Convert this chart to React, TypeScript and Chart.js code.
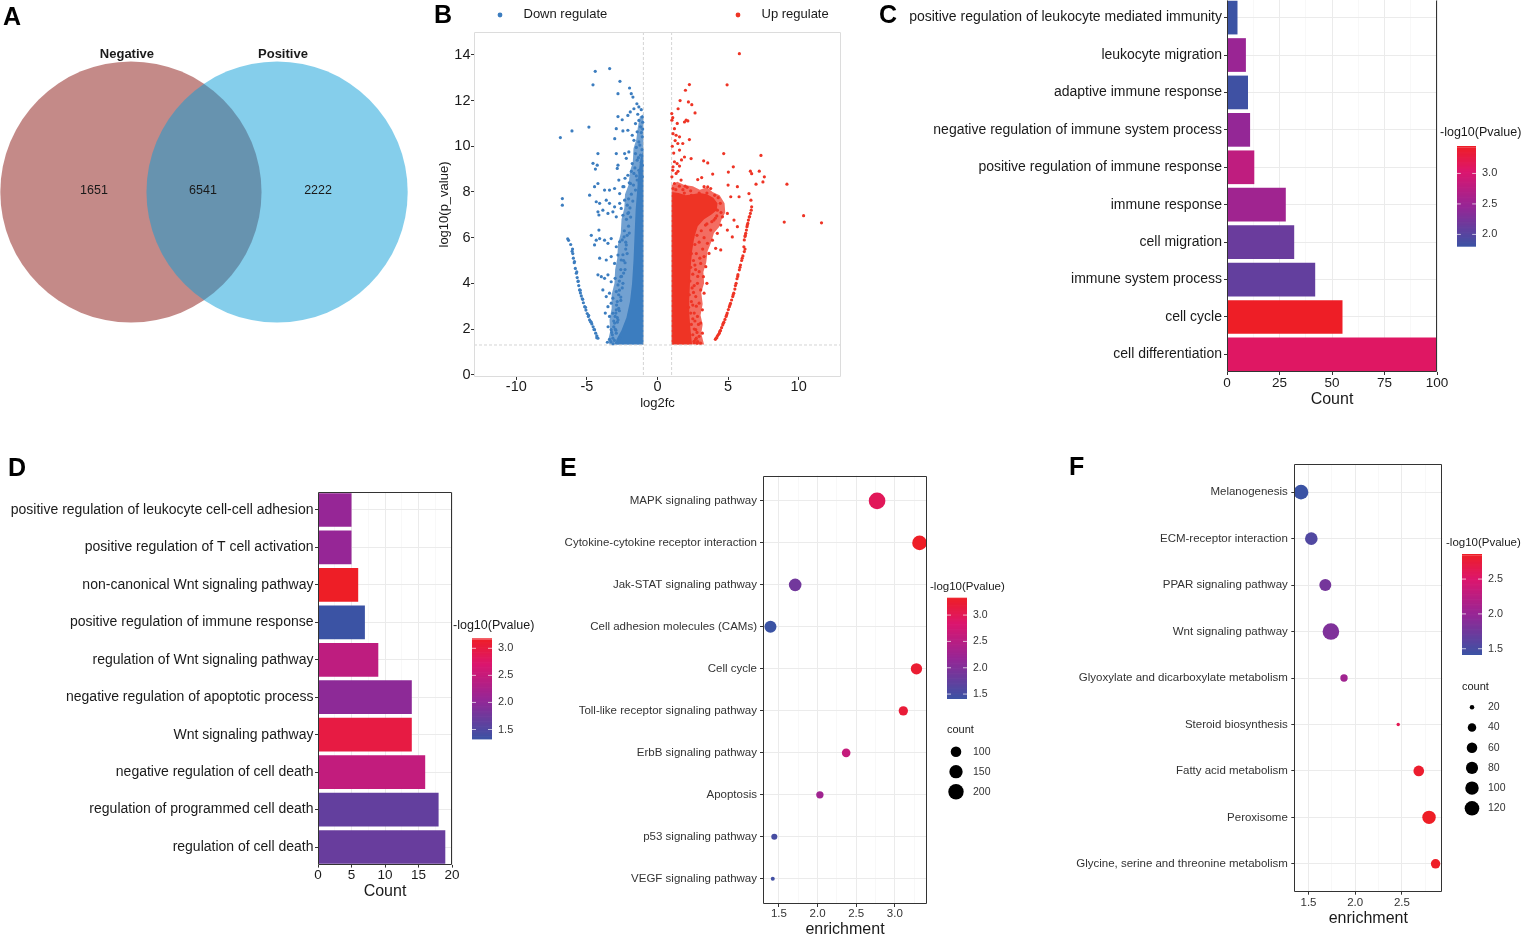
import React, { useEffect, useRef } from "react";
import { Chart, registerables } from "chart.js";

Chart.register(...registerables);

const FONT = '"Liberation Sans", Arial, Helvetica, sans-serif';
Chart.defaults.font.family = FONT;

type Pt = [number, number];

// ======================= DATA =======================
// Panel A – Venn diagram
const vennSetNames = ["Negative", "Positive"];
const vennUniqueCounts = [1651, 2222];
const vennSharedCount = 6541;

// Panel B – volcano plot
const volcanoGroups = ["Down regulate", "Up regulate"];
const log2fcCutoffs = [-1, 1];
const pValueCutoff = 1.301;
const volcanoXTicks = [-10, -5, 0, 5, 10];
const volcanoYTicks = [0, 2, 4, 6, 8, 10, 12, 14];

// outlines of the over-plotted regions: saturated core and speckled halo
const downCoreOutline: Pt[] = [
  [-1.0, 1.32], [-1.0, 9.8], [-1.2, 9.5], [-1.35, 8.8], [-1.45, 8.0], [-1.55, 7.2], [-1.62, 6.2], [-1.7, 5.0],
  [-1.8, 4.0], [-1.95, 3.2], [-2.2, 2.5], [-2.55, 1.95], [-2.9, 1.55], [-3.0, 1.32],
];
const downHaloOutline: Pt[] = [
  [-1.0, 1.32], [-1.0, 11.4], [-1.25, 11.3], [-1.4, 10.8], [-1.5, 10.3], [-1.7, 9.9], [-1.75, 9.3], [-1.95, 8.9],
  [-2.05, 8.3], [-2.3, 7.9], [-2.35, 7.3], [-2.55, 6.8], [-2.6, 6.2], [-2.8, 5.7], [-2.85, 5.1], [-3.0, 4.6],
  [-3.05, 4.0], [-3.25, 3.5], [-3.25, 2.9], [-3.4, 2.4], [-3.35, 1.9], [-3.5, 1.5], [-3.4, 1.32],
];
const upCoreOutline: Pt[] = [
  [1.0, 1.32], [1.0, 8.0], [1.5, 7.95], [2.0, 7.85], [2.5, 7.9], [3.0, 7.95], [3.5, 7.9], [3.95, 7.75],
  [4.25, 7.5], [4.2, 7.2], [3.8, 7.0], [3.3, 6.8], [2.85, 6.5], [2.6, 6.0], [2.45, 5.4], [2.35, 4.7],
  [2.3, 4.0], [2.25, 3.3], [2.25, 2.7], [2.32, 2.1], [2.4, 1.6], [2.45, 1.32],
];
const upHaloOutline: Pt[] = [
  [1.0, 1.32], [1.0, 8.3], [1.4, 8.45], [1.9, 8.3], [2.5, 8.25], [3.0, 8.1], [3.5, 8.2], [3.9, 8.0], [4.4, 7.85],
  [4.75, 7.5], [4.8, 7.1], [4.55, 6.8], [4.35, 6.45], [4.0, 6.2], [3.8, 5.8], [3.55, 5.4], [3.45, 4.9],
  [3.25, 4.5], [3.3, 4.0], [3.1, 3.6], [3.2, 3.1], [3.05, 2.6], [3.2, 2.2], [3.1, 1.8], [3.3, 1.32],
];
const downScatter: Pt[] = [
  [-6.88, 10.38], [-6.06, 10.67], [-4.86, 10.84], [-4.41, 13.28], [-3.39, 13.4], [-4.57, 12.69], [-2.66, 12.84],
  [-2.8, 12.3], [-1.98, 12.55], [-6.74, 7.71], [-6.74, 7.42],
  [-1.86, 12.3], [-1.74, 12.15], [-1.46, 11.86], [-1.32, 11.72], [-1.67, 11.64], [-1.93, 11.5], [-2.1, 11.35],
  [-2.5, 11.16], [-2.8, 11.3], [-1.32, 11.13], [-1.08, 11.28], [-1.56, 10.99], [-1.2, 10.85], [-1.44, 10.63],
  [-1.79, 10.48], [-1.08, 10.41], [-1.32, 10.19], [-1.67, 10.26], [-2.1, 10.7], [-2.45, 10.67], [-2.92, 10.77],
  [-3.03, 10.33], [-2.03, 9.75], [-1.56, 9.68], [-1.2, 9.61], [-1.44, 9.39], [-1.79, 9.24], [-1.08, 9.17],
  [-1.32, 8.95], [-1.67, 8.81], [-2.1, 8.73], [-1.08, 8.66], [-1.44, 8.52], [-1.91, 8.37], [-1.2, 8.23],
  [-1.56, 8.08], [-2.74, 8.52], [-2.38, 8.23], [-1.05, 11.05], [-1.15, 10.6], [-1.25, 10.05], [-1.1, 9.85],
  [-1.5, 9.95], [-1.35, 9.5], [-1.6, 9.05], [-1.15, 9.3], [-1.25, 8.85], [-1.5, 8.7], [-1.85, 8.9], [-1.3, 8.4],
  [-1.7, 8.3], [-1.05, 10.75], [-1.4, 11.4], [-1.15, 11.6],
  [-4.22, 9.68], [-4.57, 9.25], [-4.27, 9.17], [-4.4, 9.0], [-2.92, 9.68], [-2.8, 9.17], [-2.85, 9.03],
  [-2.33, 9.68], [-2.21, 9.47], [-4.22, 8.37], [-4.46, 8.23], [-4.81, 7.86], [-3.75, 8.08], [-3.4, 8.08],
  [-3.04, 8.15], [-2.68, 7.93], [-2.45, 8.23], [-4.34, 7.57], [-4.1, 7.5], [-3.63, 7.64], [-3.4, 7.5],
  [-3.04, 7.35], [-2.68, 7.5], [-2.57, 7.28], [-2.33, 7.64], [-2.14, 7.42], [-4.22, 7.13], [-3.87, 7.2],
  [-3.51, 7.06], [-3.16, 7.13], [-2.92, 6.91], [-2.45, 6.98], [-2.1, 7.06], [-4.15, 6.99], [-4.15, 6.33],
  [-4.69, 6.1], [-4.34, 5.89], [-4.46, 5.68], [-4.1, 5.96], [-3.75, 5.89], [-3.51, 5.75], [-3.28, 5.96],
  [-2.92, 5.6], [-2.68, 5.82], [-2.37, 6.03], [-2.21, 5.68], [-4.1, 5.1], [-3.63, 5.02], [-3.28, 5.17],
  [-3.04, 4.87], [-2.8, 5.24], [-2.57, 5.02], [-4.22, 4.37], [-3.98, 4.29], [-3.75, 4.22], [-3.51, 4.37],
  [-3.28, 4.07], [-3.0, 4.22], [-2.8, 3.93], [-2.6, 4.29], [-3.87, 3.71], [-3.63, 3.42], [-3.4, 3.57],
  [-3.16, 3.35], [-2.92, 3.64], [-3.28, 3.13], [-3.51, 2.98], [-3.4, 2.55], [-3.16, 2.69], [-2.92, 2.84],
  [-3.04, 2.26], [-2.8, 2.4], [-3.28, 1.97], [-2.92, 1.82], [-2.68, 1.6], [-3.16, 1.6],
  [-2.3, 8.6], [-2.0, 8.4], [-1.85, 7.9], [-2.05, 7.7], [-1.95, 7.3], [-2.2, 6.8], [-2.05, 6.5], [-2.35, 6.3],
  [-2.15, 6.1], [-2.5, 5.9], [-2.25, 5.5], [-2.45, 5.25], [-2.3, 4.9], [-2.6, 4.6], [-2.4, 4.45], [-2.7, 4.1],
  [-2.5, 3.8], [-2.75, 3.5], [-2.6, 3.25], [-2.9, 3.05], [-2.7, 2.8], [-3.0, 2.55], [-2.85, 2.3], [-3.1, 2.1],
  [-2.95, 1.95], [-3.2, 1.75], [-3.05, 1.5], [-3.3, 1.45], [-2.9, 1.4], [-1.75, 7.6], [-1.9, 6.9], [-2.0, 6.2],
  [-2.15, 5.3], [-2.3, 4.6], [-2.45, 4.0], [-2.6, 3.4], [-2.75, 2.9], [-2.85, 2.5], [-3.0, 2.0], [-3.15, 1.35],
  [-2.05, 7.1], [-2.25, 5.8], [-2.4, 5.0], [-2.55, 4.3], [-2.7, 3.7], [-2.85, 3.2], [-2.95, 2.7], [-3.1, 2.35],
  [-3.25, 1.85], [-3.4, 1.55], [-3.55, 1.42], [-3.5, 2.1], [-3.7, 2.7],
];
const downArc: Pt[] = [
  [-4.22, 1.6], [-4.3, 1.7], [-4.38, 1.82], [-4.46, 1.97], [-4.56, 2.1], [-4.65, 2.22], [-4.73, 2.32], [-4.81, 2.4],
  [-4.9, 2.55], [-4.98, 2.68], [-5.07, 2.83], [-5.16, 2.98], [-5.25, 3.15], [-5.33, 3.32], [-5.4, 3.45],
  [-5.46, 3.58], [-5.52, 3.71], [-5.58, 3.9], [-5.63, 4.08], [-5.69, 4.25], [-5.75, 4.44], [-5.82, 4.65],
  [-5.9, 4.9], [-5.96, 5.1], [-6.0, 5.3], [-6.02, 5.5], [-6.15, 5.7], [-6.3, 5.88], [-6.36, 5.95],
  [-4.3, 1.62], [-4.5, 1.98], [-4.7, 2.3], [-4.88, 2.6], [-5.1, 2.95], [-5.3, 3.3], [-5.48, 3.7], [-5.62, 4.1],
  [-5.72, 4.5], [-5.88, 4.95], [-6.05, 5.4],
];
const upScatter: Pt[] = [
  [5.8, 14.05], [4.93, 12.69], [2.26, 12.7], [1.98, 12.45], [1.6, 12.0], [2.19, 11.94], [2.43, 11.82], [2.66, 11.46],
  [1.46, 11.64], [1.01, 11.43], [1.08, 11.25], [1.02, 11.14], [1.91, 11.06], [2.03, 11.14], [2.15, 11.11],
  [1.2, 10.77], [1.32, 10.48], [1.56, 10.41], [2.26, 10.29], [1.44, 10.12], [1.79, 10.12], [1.56, 9.83],
  [1.91, 9.53], [1.2, 9.32], [1.39, 9.24], [1.56, 9.13], [2.38, 9.46], [1.08, 8.95], [1.32, 8.81], [1.02, 8.66],
  [1.67, 8.52], [1.2, 8.37], [1.96, 8.25],
  [4.69, 9.68], [7.33, 9.6], [3.27, 9.36], [3.56, 9.27], [5.37, 9.1], [5.02, 8.87], [3.91, 8.78], [3.13, 8.63],
  [2.85, 8.54], [6.58, 8.91], [6.67, 8.8], [7.21, 8.91], [7.57, 8.66], [7.47, 8.44], [6.98, 8.34], [9.17, 8.34],
  [5.0, 8.3], [3.56, 8.22], [10.35, 6.96], [8.98, 6.68], [11.62, 6.65],
  [1.05, 10.0], [1.15, 9.7], [1.1, 9.1], [1.45, 8.9], [1.3, 8.1], [1.55, 8.25], [1.8, 8.1], [2.1, 8.2],
  [2.35, 8.05], [1.1, 8.15], [1.7, 9.4], [1.25, 10.25], [1.1, 10.55], [1.4, 11.0],
  [6.48, 7.93], [3.3, 8.23], [3.77, 8.15], [5.19, 7.79], [5.78, 7.79], [5.66, 8.23], [4.24, 7.2], [4.6, 6.91],
  [4.95, 7.06], [5.42, 6.77], [5.66, 6.48], [5.3, 6.03], [4.95, 6.33], [4.48, 6.55], [4.0, 6.77], [4.24, 6.19],
  [3.77, 6.33], [3.89, 5.89], [3.54, 5.75], [4.12, 5.53], [4.48, 5.46], [3.65, 5.31], [3.3, 5.17], [3.06, 4.87],
  [3.42, 4.73], [2.95, 4.51], [3.25, 4.29], [2.83, 4.0], [3.5, 4.0], [3.06, 3.71], [2.71, 3.42], [3.3, 3.57],
  [2.95, 3.13], [3.18, 2.84], [2.83, 2.55], [3.06, 2.26], [2.71, 1.97], [2.95, 1.68], [2.59, 1.46], [3.18, 1.82],
  [2.5, 6.0], [2.65, 5.7], [2.4, 5.3], [2.55, 5.0], [2.35, 4.7], [2.5, 4.4], [2.3, 4.1], [2.45, 3.8], [2.25, 3.5],
  [2.4, 3.2], [2.2, 2.95], [2.35, 2.7], [2.5, 2.45], [2.4, 2.2], [2.6, 2.0], [2.5, 1.75], [2.7, 1.55], [2.8, 1.38],
  [2.6, 1.4], [2.85, 1.45], [3.05, 1.38], [2.75, 1.6], [2.8, 6.1], [3.1, 6.3], [3.4, 6.55], [2.95, 5.8],
  [3.2, 5.5], [2.75, 5.3], [2.65, 4.8], [2.85, 4.3], [2.6, 3.9], [2.75, 3.0], [2.6, 2.7], [2.9, 2.2], [2.8, 1.85],
  [3.3, 6.0], [3.0, 5.1], [2.7, 4.6], [2.55, 3.6], [2.5, 3.05], [2.65, 2.35],
  [4.45, 7.5], [4.5, 7.1], [4.2, 6.95], [3.85, 6.7], [3.5, 6.6], [2.95, 7.95], [3.5, 7.95], [4.05, 7.85],
  [2.4, 7.85], [1.9, 7.95], [4.3, 7.75], [4.1, 6.85],
];
const upArc: Pt[] = [
  [4.1, 1.55], [4.15, 1.6], [4.25, 1.7], [4.32, 1.76], [4.38, 1.82], [4.46, 1.94], [4.54, 2.06], [4.62, 2.18],
  [4.7, 2.3], [4.78, 2.42], [4.86, 2.55], [4.94, 2.7], [5.02, 2.85], [5.09, 2.98], [5.17, 3.12], [5.25, 3.27],
  [5.33, 3.42], [5.4, 3.57], [5.48, 3.75], [5.57, 4.0], [5.63, 4.2], [5.7, 4.38], [5.8, 4.59], [5.88, 4.8],
  [5.96, 5.0], [6.05, 5.2], [6.15, 5.39], [6.12, 5.6], [6.15, 5.9], [6.2, 6.05], [6.25, 6.19], [6.3, 6.33],
  [6.34, 6.48], [6.4, 6.62], [6.44, 6.77], [6.52, 6.92], [6.58, 7.06], [6.64, 7.2], [6.67, 7.35], [6.62, 7.64],
  [4.2, 1.62], [4.42, 1.9], [4.66, 2.25], [4.9, 2.62], [5.13, 3.05], [5.36, 3.5], [5.52, 3.9], [5.68, 4.3],
  [5.84, 4.7], [6.0, 5.1], [6.2, 5.5], [6.22, 6.1], [6.36, 6.55], [6.5, 6.9],
];

// Panel C – GO terms
const goCTerms = [
  "positive regulation of leukocyte mediated immunity", "leukocyte migration", "adaptive immune response",
  "negative regulation of immune system process", "positive regulation of immune response", "immune response",
  "cell migration", "immune system process", "cell cycle", "cell differentiation",
];
const goCCounts = [5, 9, 10, 11, 13, 28, 32, 42, 55, 100];
const goCLogP = [1.81, 2.5, 1.84, 2.45, 2.8, 2.55, 2.15, 2.1, 3.45, 3.1];
const goCCountTicks = [0, 25, 50, 75, 100];
const goCColorBreaks = [2.0, 2.5, 3.0];

// Panel D – GO terms
const goDTerms = [
  "positive regulation of leukocyte cell-cell adhesion", "positive regulation of T cell activation",
  "non-canonical Wnt signaling pathway", "positive regulation of immune response",
  "regulation of Wnt signaling pathway", "negative regulation of apoptotic process", "Wnt signaling pathway",
  "negative regulation of cell death", "regulation of programmed cell death", "regulation of cell death",
];
const goDCounts = [5, 5, 6, 7, 9, 14, 14, 16, 18, 19];
const goDLogP = [2.07, 2.07, 3.185, 1.33, 2.44, 2.0, 3.0, 2.48, 1.66, 1.7];
const goDCountTicks = [0, 5, 10, 15, 20];
const goDColorBreaks = [1.5, 2.0, 2.5, 3.0];

// Panel E – KEGG
const keggETerms = [
  "MAPK signaling pathway", "Cytokine-cytokine receptor interaction", "Jak-STAT signaling pathway",
  "Cell adhesion molecules (CAMs)", "Cell cycle", "Toll-like receptor signaling pathway", "ErbB signaling pathway",
  "Apoptosis", "p53 signaling pathway", "VEGF signaling pathway",
];
const keggEEnrichment = [2.77, 3.32, 1.71, 1.39, 3.28, 3.11, 2.37, 2.03, 1.44, 1.42];
const keggECounts = [233, 181, 136, 124, 112, 83, 75, 63, 55, 50];
const keggELogP = [2.99, 3.33, 1.88, 1.42, 3.25, 3.21, 2.62, 2.28, 1.52, 1.48];
const keggEEnrichTicks = [1.5, 2.0, 2.5, 3.0];
const keggEColorBreaks = [1.5, 2.0, 2.5, 3.0];
const keggESizeBreaks = [100, 150, 200];

// Panel F – KEGG
const keggFTerms = [
  "Melanogenesis", "ECM-receptor interaction", "PPAR signaling pathway", "Wnt signaling pathway",
  "Glyoxylate and dicarboxylate metabolism", "Steroid biosynthesis", "Fatty acid metabolism", "Peroxisome",
  "Glycine, serine and threonine metabolism",
];
const keggFEnrichment = [1.42, 1.53, 1.68, 1.74, 1.88, 2.46, 2.68, 2.79, 2.86];
const keggFCounts = [120, 87, 79, 159, 32, 19, 61, 100, 48];
const keggFLogP = [1.42, 1.56, 1.79, 1.85, 2.07, 2.63, 2.82, 2.86, 2.85];
const keggFEnrichTicks = [1.5, 2.0, 2.5];
const keggFColorBreaks = [1.5, 2.0, 2.5];
const keggFSizeBreaks = [20, 40, 60, 80, 100, 120];

// ======================= STYLE HELPERS =======================
const DOWN_COLOR = "#3C7DBF";
const UP_COLOR = "#EE3425";
const DOWN_HALO = "rgba(60,125,191,0.72)";
const UP_HALO = "rgba(238,52,37,0.72)";
const TEXT_DARK = "#1a1a1a";
const TEXT_GREY = "#333333";

const RAMP_STOPS: number[][] = [
  [0, 59, 83, 164],
  [0.4, 150, 38, 150],
  [0.75, 220, 22, 110],
  [1, 238, 30, 38],
];
function rampColor(t: number): string {
  const tt = Math.max(0, Math.min(1, t));
  for (let i = 1; i < RAMP_STOPS.length; i++) {
    const a = RAMP_STOPS[i - 1];
    const b = RAMP_STOPS[i];
    if (tt <= b[0]) {
      const u = (tt - a[0]) / (b[0] - a[0]);
      const c = [1, 2, 3].map((k) => Math.round(a[k] + (b[k] - a[k]) * u));
      return `rgb(${c[0]},${c[1]},${c[2]})`;
    }
  }
  return "rgb(238,30,38)";
}
const range = (arr: number[]) => [Math.min(...arr), Math.max(...arr)];
function colorsFor(vals: number[]) {
  const [lo, hi] = range(vals);
  return vals.map((v) => rampColor((v - lo) / (hi - lo)));
}
function sizeScale(counts: number[], rMin: number, rMax: number) {
  const [lo, hi] = range(counts);
  return (c: number) => rMin + (rMax - rMin) * Math.sqrt(Math.max(0, (c - lo) / (hi - lo)));
}
function expandRange(vals: number[]) {
  const [lo, hi] = range(vals);
  const d = (hi - lo) * 0.05;
  return [lo - d, hi + d];
}
function withMinors(majors: number[], min: number, max: number) {
  const step = majors[1] - majors[0];
  const out: number[] = [];
  const first = majors[0] - step / 2;
  for (let v = first; v <= max + 1e-9; v += step / 2) {
    if (v >= min - 1e-9) out.push(Math.round(v * 1000) / 1000);
  }
  return out;
}
const isIn = (arr: number[]) => (v: number) => arr.some((a) => Math.abs(a - v) < 1e-6);

interface AxisOpts {
  min: number;
  max: number;
  reverse?: boolean;
  values: number[];
  label: (v: number) => string;
  isMajor: (v: number) => boolean;
  size: number;
  fontSize: number;
  color: string;
  pad: number;
  grid: boolean;
  title?: string;
  titleSize?: number;
  titlePad?: number;
}
function axis(o: AxisOpts): any {
  return {
    type: "linear",
    min: o.min,
    max: o.max,
    reverse: !!o.reverse,
    bounds: "data",
    offset: false,
    afterBuildTicks: (s: any) => {
      s.ticks = o.values.map((v) => ({ value: v }));
    },
    afterFit: (s: any) => {
      if (s.isHorizontal()) s.height = o.size;
      else s.width = o.size;
      s.paddingTop = 0;
      s.paddingBottom = 0;
      s.paddingLeft = 0;
      s.paddingRight = 0;
    },
    border: { display: false },
    grid: {
      display: true,
      offset: false,
      drawOnChartArea: o.grid,
      drawTicks: true,
      tickLength: 3,
      color: (c: any) => (c.tick && o.isMajor(c.tick.value) ? "#EBEBEB" : "#F3F3F3"),
      lineWidth: (c: any) => (c.tick && o.isMajor(c.tick.value) ? 1 : 0.6),
      tickColor: (c: any) => (c.tick && o.isMajor(c.tick.value) ? "#333333" : "rgba(0,0,0,0)"),
      tickWidth: 1,
    },
    ticks: {
      autoSkip: false,
      maxRotation: 0,
      minRotation: 0,
      padding: o.pad,
      color: o.color,
      font: { family: FONT, size: o.fontSize, lineHeight: 1 },
      callback: (v: any) => o.label(Number(v)),
    },
    title: o.title
      ? {
          display: true,
          text: o.title,
          color: TEXT_DARK,
          font: { family: FONT, size: o.titleSize, lineHeight: 1.2 },
          padding: { top: o.titlePad, bottom: o.titlePad },
        }
      : { display: false },
  };
}

function baseOptions(padding: any): any {
  return {
    responsive: false,
    maintainAspectRatio: false,
    animation: false,
    events: [],
    layout: { padding },
    plugins: { legend: { display: false }, tooltip: { enabled: false }, title: { display: false } },
  };
}

function framePlugin(color: string, sides = "ltrb") {
  return {
    id: "frame",
    afterDatasetsDraw(chart: any) {
      const { ctx, chartArea: a } = chart;
      const L = Math.round(a.left) + 0.5;
      const R = Math.round(a.right) - 0.5;
      const T = Math.round(a.top) + 0.5;
      const B = Math.round(a.bottom) - 0.5;
      ctx.save();
      ctx.strokeStyle = color;
      ctx.lineWidth = 1;
      ctx.beginPath();
      if (sides.includes("l")) { ctx.moveTo(L, T); ctx.lineTo(L, B); }
      if (sides.includes("r")) { ctx.moveTo(R, T); ctx.lineTo(R, B); }
      if (sides.includes("t")) { ctx.moveTo(L, T); ctx.lineTo(R, T); }
      if (sides.includes("b")) { ctx.moveTo(L, B); ctx.lineTo(R, B); }
      ctx.stroke();
      ctx.restore();
    },
  };
}

interface BarLegend {
  title: string; titleX: number; titleY: number; titleSize: number;
  x: number; y: number; w: number; h: number; vals: number[]; breaks: number[];
  labelX: number; labelSize: number;
}
function colorbarPlugin(o: BarLegend) {
  return {
    id: "colorbar",
    afterDraw(chart: any) {
      const ctx = chart.ctx;
      const [lo, hi] = range(o.vals);
      ctx.save();
      ctx.font = `${o.titleSize}px ${FONT}`;
      ctx.fillStyle = TEXT_DARK;
      ctx.textBaseline = "middle";
      ctx.textAlign = "left";
      ctx.fillText(o.title, o.titleX, o.titleY);
      const n = 80;
      for (let i = 0; i < n; i++) {
        ctx.fillStyle = rampColor((i + 0.5) / n);
        const yTop = o.y + o.h - ((i + 1) * o.h) / n;
        ctx.fillRect(o.x, yTop, o.w, o.h / n + (i < n - 1 ? 0.7 : 0));
      }
      ctx.font = `${o.labelSize}px ${FONT}`;
      for (const b of o.breaks) {
        const yy = o.y + o.h - ((b - lo) / (hi - lo)) * o.h;
        ctx.strokeStyle = "rgba(255,255,255,0.85)";
        ctx.lineWidth = 0.8;
        ctx.beginPath();
        ctx.moveTo(o.x, yy); ctx.lineTo(o.x + o.w / 5, yy);
        ctx.moveTo(o.x + (o.w * 4) / 5, yy); ctx.lineTo(o.x + o.w, yy);
        ctx.stroke();
        ctx.fillStyle = TEXT_GREY;
        ctx.fillText(b.toFixed(1), o.labelX, yy);
      }
      ctx.restore();
    },
  };
}

interface SizeLegend {
  title: string; titleX: number; titleY: number; titleSize: number;
  dotX: number; y0: number; dy: number; breaks: number[]; radius: (c: number) => number;
  labelX: number; labelSize: number;
}
function sizeLegendPlugin(o: SizeLegend) {
  return {
    id: "sizeLegend",
    afterDraw(chart: any) {
      const ctx = chart.ctx;
      ctx.save();
      ctx.textBaseline = "middle";
      ctx.textAlign = "left";
      ctx.fillStyle = TEXT_DARK;
      ctx.font = `${o.titleSize}px ${FONT}`;
      ctx.fillText(o.title, o.titleX, o.titleY);
      ctx.font = `${o.labelSize}px ${FONT}`;
      o.breaks.forEach((b, i) => {
        const yy = o.y0 + i * o.dy;
        ctx.fillStyle = "#000";
        ctx.beginPath();
        ctx.arc(o.dotX, yy, o.radius(b), 0, Math.PI * 2);
        ctx.fill();
        ctx.fillStyle = TEXT_GREY;
        ctx.fillText(String(b), o.labelX, yy);
      });
      ctx.restore();
    },
  };
}

// ======================= PANELS =======================
const vennLayout = { centers: [-0.348, 0.348], radius: 0.622, nameX: [-0.367, 0.376], countX: [-0.524, -0.005, 0.543] };
const vennFill = ["rgba(137,21,17,0.5)", "rgba(11,157,215,0.5)"];

function buildVenn(): any {
  const venn = {
    id: "venn",
    beforeDatasetsDraw(chart: any) {
      const { ctx, scales } = chart;
      const x = scales.x;
      const y = scales.y;
      const r = x.getPixelForValue(vennLayout.radius) - x.getPixelForValue(0);
      const cy = y.getPixelForValue(0);
      ctx.save();
      vennSetNames.forEach((_, i) => {
        ctx.fillStyle = vennFill[i];
        ctx.beginPath();
        ctx.arc(x.getPixelForValue(vennLayout.centers[i]), cy, r, 0, Math.PI * 2);
        ctx.fill();
      });
      ctx.fillStyle = TEXT_DARK;
      ctx.textAlign = "center";
      ctx.font = `bold 13px ${FONT}`;
      ctx.textBaseline = "alphabetic";
      vennSetNames.forEach((n, i) => ctx.fillText(n, x.getPixelForValue(vennLayout.nameX[i]), cy - r - 3.5));
      ctx.font = `12.5px ${FONT}`;
      ctx.textBaseline = "middle";
      const counts = [vennUniqueCounts[0], vennSharedCount, vennUniqueCounts[1]];
      counts.forEach((c, i) => ctx.fillText(String(c), x.getPixelForValue(vennLayout.countX[i]), cy - 1));
      ctx.restore();
    },
  };
  return {
    type: "scatter",
    data: {
      datasets: vennSetNames.map((name, i) => ({
        label: name,
        data: [{ x: vennLayout.centers[i], y: 0 }],
        pointRadius: 0,
      })),
    },
    options: {
      ...baseOptions(0),
      scales: {
        x: { type: "linear", min: -1, max: 1, display: false },
        y: { type: "linear", min: -1, max: 1, display: false },
      },
    },
    plugins: [venn],
  };
}

function buildVolcano(): any {
  const layers = {
    id: "volcanoLayers",
    beforeDatasetsDraw(chart: any) {
      const { ctx, chartArea: a, scales } = chart;
      const x = scales.x;
      const y = scales.y;
      ctx.save();
      const poly = (pts: Pt[], color: string) => {
        ctx.beginPath();
        pts.forEach(([px, py], i) => {
          const X = x.getPixelForValue(px);
          const Y = y.getPixelForValue(py);
          if (i) ctx.lineTo(X, Y);
          else ctx.moveTo(X, Y);
        });
        ctx.closePath();
        ctx.fillStyle = color;
        ctx.fill();
      };
      poly(downHaloOutline, DOWN_HALO);
      poly(upHaloOutline, UP_HALO);
      poly(downCoreOutline, DOWN_COLOR);
      poly(upCoreOutline, UP_COLOR);
      ctx.setLineDash([3, 2]);
      ctx.strokeStyle = "#C9C9C9";
      ctx.lineWidth = 0.8;
      log2fcCutoffs.forEach((v) => {
        const X = x.getPixelForValue(v);
        ctx.beginPath();
        ctx.moveTo(X, a.top);
        ctx.lineTo(X, a.bottom);
        ctx.stroke();
      });
      const Y = y.getPixelForValue(pValueCutoff);
      ctx.beginPath();
      ctx.moveTo(a.left, Y);
      ctx.lineTo(a.right, Y);
      ctx.stroke();
      ctx.restore();
    },
  };
  const legend = {
    id: "volcanoLegend",
    afterDraw(chart: any) {
      const ctx = chart.ctx;
      const items = [
        { x: 70, color: DOWN_COLOR, text: volcanoGroups[0] },
        { x: 308, color: UP_COLOR, text: volcanoGroups[1] },
      ];
      ctx.save();
      ctx.font = `13px ${FONT}`;
      ctx.textBaseline = "middle";
      ctx.textAlign = "left";
      items.forEach((it) => {
        ctx.fillStyle = it.color;
        ctx.beginPath();
        ctx.arc(it.x, 15, 2.4, 0, Math.PI * 2);
        ctx.fill();
        ctx.fillStyle = TEXT_DARK;
        ctx.fillText(it.text, it.x + 23.5, 14);
      });
      ctx.restore();
    },
  };
  const toXY = (p: Pt) => ({ x: p[0], y: p[1] });
  return {
    type: "scatter",
    data: {
      datasets: [
        { label: volcanoGroups[0], data: [...downScatter, ...downArc].map(toXY), pointRadius: 1.6, pointBackgroundColor: DOWN_COLOR, pointBorderWidth: 0 },
        { label: volcanoGroups[1], data: [...upScatter, ...upArc].map(toXY), pointRadius: 1.6, pointBackgroundColor: UP_COLOR, pointBorderWidth: 0 },
      ],
    },
    options: {
      ...baseOptions({ left: 0, top: 32, right: 9, bottom: 0 }),
      scales: {
        x: axis({ min: -13, max: 13, values: volcanoXTicks, label: (v) => String(v), isMajor: () => true, size: 43, fontSize: 14.5, color: TEXT_DARK, pad: 0, grid: false, title: "log2fc", titleSize: 13, titlePad: 9.2 }),
        y: axis({ min: -0.1, max: 15, values: volcanoYTicks, label: (v) => String(v), isMajor: () => true, size: 44, fontSize: 14.5, color: TEXT_DARK, pad: 0.5, grid: false, title: "log10(p_value)", titleSize: 13, titlePad: 6.2 }),
      },
    },
    plugins: [layers, framePlugin("#DCDCDC"), legend],
  };
}

function buildGoBars(p: {
  terms: string[]; counts: number[]; logp: number[]; ticks: number[]; breaks: number[];
  padding: any; ySize: number; xSize: number; titlePad: number; xPad: number; yPad: number; sides: string;
  legend: Omit<BarLegend, "vals" | "breaks" | "title">;
}): any {
  const xMax = p.ticks[p.ticks.length - 1];
  const values = withMinors(p.ticks, 0, xMax);
  return {
    type: "bar",
    data: {
      datasets: [{
        data: p.counts.map((c, i) => ({ x: c, y: i })),
        backgroundColor: colorsFor(p.logp),
        borderWidth: 0,
        barPercentage: 0.9,
        categoryPercentage: 1,
      }],
    },
    options: {
      ...baseOptions(p.padding),
      indexAxis: "y",
      scales: {
        x: axis({ min: 0, max: xMax, values, label: (v) => (isIn(p.ticks)(v) ? String(v) : ""), isMajor: isIn(p.ticks), size: p.xSize, fontSize: 13.5, color: TEXT_DARK, pad: p.xPad, grid: true, title: "Count", titleSize: 16, titlePad: p.titlePad }),
        y: axis({ min: -0.47, max: p.terms.length - 0.53, reverse: true, values: p.terms.map((_, i) => i), label: (v) => p.terms[v] ?? "", isMajor: () => true, size: p.ySize, fontSize: 14, color: TEXT_DARK, pad: p.yPad, grid: true }),
      },
    },
    plugins: [framePlugin("#333333", p.sides), colorbarPlugin({ ...p.legend, title: "-log10(Pvalue)", vals: p.logp, breaks: p.breaks })],
  };
}

function buildKeggDots(p: {
  terms: string[]; enrich: number[]; counts: number[]; logp: number[]; ticks: number[]; colorBreaks: number[]; sizeBreaks: number[];
  rMin: number; rMax: number; padding: any; ySize: number; xSize: number; titlePad: number; xPad: number; yPad: number;
  legend: Omit<BarLegend, "vals" | "breaks" | "title">; size: Omit<SizeLegend, "radius" | "breaks" | "title">;
}): any {
  const [xMin, xMax] = expandRange(p.enrich);
  const rad = sizeScale(p.counts, p.rMin, p.rMax);
  const values = withMinors(p.ticks, xMin, xMax);
  return {
    type: "scatter",
    data: {
      datasets: [{
        data: p.enrich.map((e, i) => ({ x: e, y: i })),
        pointRadius: p.counts.map(rad),
        pointBackgroundColor: colorsFor(p.logp),
        pointBorderWidth: 0,
      }],
    },
    options: {
      ...baseOptions(p.padding),
      scales: {
        x: axis({ min: xMin, max: xMax, values, label: (v) => (isIn(p.ticks)(v) ? v.toFixed(1) : ""), isMajor: isIn(p.ticks), size: p.xSize, fontSize: 11.5, color: TEXT_GREY, pad: p.xPad, grid: true, title: "enrichment", titleSize: 16, titlePad: p.titlePad }),
        y: axis({ min: -0.6, max: p.terms.length - 0.4, reverse: true, values: p.terms.map((_, i) => i), label: (v) => p.terms[v] ?? "", isMajor: () => true, size: p.ySize, fontSize: 11.5, color: TEXT_GREY, pad: p.yPad, grid: true }),
      },
    },
    plugins: [
      framePlugin("#333333"),
      colorbarPlugin({ ...p.legend, title: "-log10(Pvalue)", vals: p.logp, breaks: p.colorBreaks }),
      sizeLegendPlugin({ ...p.size, title: "count", breaks: p.sizeBreaks, radius: rad }),
    ],
  };
}

function ChartCanvas({ left, top, width, height, build }: { left: number; top: number; width: number; height: number; build: () => any }) {
  const ref = useRef<HTMLCanvasElement | null>(null);
  useEffect(() => {
    if (!ref.current) return;
    const chart = new Chart(ref.current, build());
    return () => chart.destroy();
  }, []);
  return <canvas ref={ref} width={width} height={height} style={{ position: "absolute", left, top, width, height }} />;
}

const panelLetters = [
  { t: "A", x: 3, y: 4 },
  { t: "B", x: 434, y: 2 },
  { t: "C", x: 879, y: 2 },
  { t: "D", x: 8, y: 455 },
  { t: "E", x: 560, y: 455 },
  { t: "F", x: 1069, y: 454 },
];

export default function App() {
  return (
    <div style={{ position: "fixed", left: 0, top: 0, width: 1526, height: 937, overflow: "hidden", background: "#fff" }}>
      <style>{"html,body{margin:0;padding:0;overflow:hidden;background:#fff}"}</style>
      <ChartCanvas left={-6} top={0} width={420} height={384} build={buildVenn} />
      <ChartCanvas left={430} top={0} width={420} height={420} build={buildVolcano} />
      <ChartCanvas
        left={880} top={0} width={646} height={420}
        build={() => buildGoBars({
          terms: goCTerms, counts: goCCounts, logp: goCLogP, ticks: goCCountTicks, breaks: goCColorBreaks,
          padding: { left: 0, top: 0, right: 89, bottom: 0 }, ySize: 347, xSize: 48, titlePad: 10.4, xPad: 2, yPad: 2, sides: "lrb",
          legend: { titleX: 560, titleY: 133, titleSize: 12.5, x: 577, y: 146, w: 19, h: 100, labelX: 602, labelSize: 11 },
        })}
      />
      <ChartCanvas
        left={0} top={450} width={560} height={487}
        build={() => buildGoBars({
          terms: goDTerms, counts: goDCounts, logp: goDLogP, ticks: goDCountTicks, breaks: goDColorBreaks,
          padding: { left: 0, top: 42.4, right: 108, bottom: 0 }, ySize: 318, xSize: 72.4, titlePad: 35.7, xPad: 1, yPad: 1.5, sides: "ltrb",
          legend: { titleX: 453, titleY: 176, titleSize: 12.5, x: 472, y: 188.3, w: 20, h: 100.4, labelX: 498, labelSize: 11 },
        })}
      />
      <ChartCanvas
        left={550} top={450} width={480} height={500}
        build={() => buildKeggDots({
          terms: keggETerms, enrich: keggEEnrichment, counts: keggECounts, logp: keggELogP, ticks: keggEEnrichTicks,
          colorBreaks: keggEColorBreaks, sizeBreaks: keggESizeBreaks, rMin: 2, rMax: 8.3,
          padding: { left: 0, top: 25.7, right: 103, bottom: 0 }, ySize: 213, xSize: 46, titlePad: 10.4, xPad: 1.5, yPad: 3,
          legend: { titleX: 380, titleY: 137, titleSize: 11.5, x: 397, y: 147.7, w: 20, h: 100.6, labelX: 423, labelSize: 10.5 },
          size: { titleX: 397, titleY: 280, titleSize: 11, dotX: 406, y0: 301.7, dy: 20, labelX: 423, labelSize: 10.5 },
        })}
      />
      <ChartCanvas
        left={1060} top={450} width={466} height={500}
        build={() => buildKeggDots({
          terms: keggFTerms, enrich: keggFEnrichment, counts: keggFCounts, logp: keggFLogP, ticks: keggFEnrichTicks,
          colorBreaks: keggFColorBreaks, sizeBreaks: keggFSizeBreaks, rMin: 1.7, rMax: 8.3,
          padding: { left: 0, top: 14.3, right: 83.7, bottom: 0 }, ySize: 234.3, xSize: 58.3, titlePad: 22.1, xPad: 2, yPad: 3.5,
          legend: { titleX: 386, titleY: 92.7, titleSize: 11.5, x: 402, y: 104, w: 20, h: 100.3, labelX: 428, labelSize: 10.8 },
          size: { titleX: 402, titleY: 236.7, titleSize: 11, dotX: 412, y0: 257.3, dy: 20.2, labelX: 428, labelSize: 10.5 },
        })}
      />
      {panelLetters.map((l) => (
        <div key={l.t} style={{ position: "absolute", left: l.x, top: l.y, font: `bold 25px ${FONT}`, lineHeight: "25px", color: "#000" }}>
          {l.t}
        </div>
      ))}
    </div>
  );
}
